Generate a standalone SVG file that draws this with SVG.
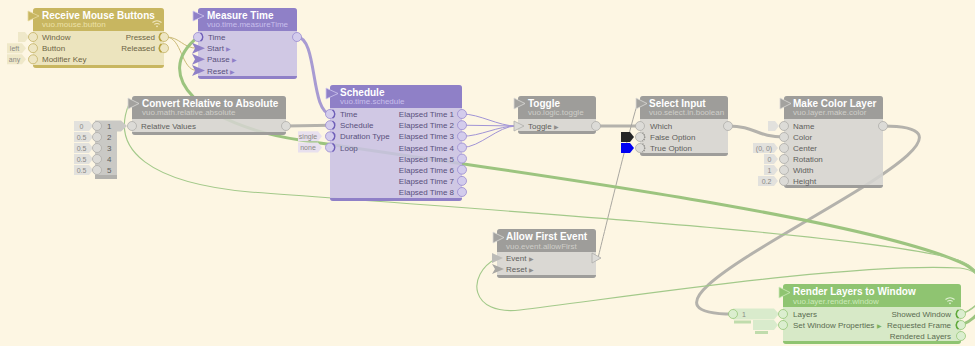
<svg xmlns="http://www.w3.org/2000/svg" width="975" height="346" viewBox="0 0 975 346">
<defs>
<style>
text{font-family:'Liberation Sans',Arial,sans-serif}
.tt{font-size:10px;font-weight:bold;fill:#fff}
.st{font-size:8px}
.lb{font-size:8px}
.r{text-anchor:end}
.kt{font-size:7px;text-anchor:middle;fill:#8a8985}
.ar{font-size:6px}
.b{fill-opacity:.88}
.hG{fill:#c8b660}.bG{fill:#e9e1b8}.lG{fill:#6c6445}.sG{fill:#ece1a8}
.hP{fill:#8f80c7}.bP{fill:#c9c1e4}.lP{fill:#58507c}.sP{fill:#c8bfec}
.hY{fill:#9e9d9a}.bY{fill:#d5d4d0}.lY{fill:#5e5e5c}.sY{fill:#cfcec9}
.hN{fill:#8fc471}.bN{fill:#d1e7c3}.lN{fill:#5a6c50}.sN{fill:#cdeaba}
.pG{fill:#eee6c3;stroke:#c4b266;stroke-width:.8}
.pP{fill:#d3ccec;stroke:#9a8cd0;stroke-width:.8}
.pY{fill:#dcdbd7;stroke:#aeada9;stroke-width:.8}
.pN{fill:#dbeecf;stroke:#95c777;stroke-width:.8}
.kG{fill:#efe8c9}.kP{fill:#e8e0ee}.kY{fill:#e2e1dd}.kN{fill:#d9ebcc}
.eG{stroke:#b8a23e;stroke-width:1.6;fill:none}
.eP{stroke:#6f5fb8;stroke-width:1.4;fill:none}
.eN{stroke:#5ea83a;stroke-width:1.6;fill:none}
.rG{fill:#c8b660;stroke:#e6d9a0;stroke-width:.8}
.rP{fill:#8f80c7;stroke:#cfc6ef;stroke-width:.8}
.rY{fill:#a3a29f;stroke:#dad9d5;stroke-width:.8}
.rN{fill:#8fc471;stroke:#cdeaba;stroke-width:.8}
.cG{stroke:#9cc47f;stroke-width:3;fill:none}
.cg{stroke:#a3c98a;stroke-width:1.1;fill:none}
.cY{stroke:#b4b2ac;stroke-width:3;fill:none}
.cy{stroke:#a9a7a1;stroke-width:1;fill:none}
.cP{stroke:#a89bd2;stroke-width:3;fill:none}
.cp{stroke:#a194d6;stroke-width:1;fill:none}
.cT{stroke:#cbbb78;stroke-width:1;fill:none}
.wf{fill:none;stroke-width:1.1}
</style>
</defs>
<rect width="975" height="346" fill="#fdf6e3"/>

<g id="connectors">
<path class="cT" d="M166,37 C180,37 183,48.2 197,48.2"/>
<path class="cT" d="M166,37 C182,37 181,70.5 197,70.5"/>
<path class="cP" d="M297,37 C318,37 310,114 331,114"/>
<path class="cY" d="M286,126 L331,125.2"/>
<path class="cp" d="M462,114 C480,114 498,126 516,126"/>
<path class="cp" d="M462,125.2 C480,125.2 498,126 516,126"/>
<path class="cp" d="M462,136.3 C480,136.3 498,126 516,126"/>
<path class="cp" d="M462,147.5 C480,147.5 498,126 516,126"/>
<path class="cY" d="M596,126 L640,126"/>
<path class="cY" d="M728,126 C756,126 756,137 784,137"/>
<path class="cy" d="M598,258 C600,250 634,110 638,103"/>
<path class="cY" d="M883,126 C1053,126 563,314 733,314"/>
<path class="cG" d="M961,325 C990,315 995,277 960,262 C850,215 500,170 300,140 C200,125 150,75 198,37"/>
<path class="cg" d="M961,314 C990,305 992,272 958,260 C880,236 520,212 250,192 C150,183 110,150 129,104"/>
<path class="cg" d="M961,314 C992,302 992,272 960,268 C850,262 620,298 520,310 C470,316 465,275 497,258"/>
</g>

<g id="receive-mouse-buttons">
<rect class="bG b" x="33" y="8" width="131" height="60" rx="3"/>
<path class="hG" d="M33,31V11a3,3 0 0 1 3-3H161a3,3 0 0 1 3,3V31Z"/>
<path class="hG" d="M33,65H164a3,3 0 0 1-3,3H36a3,3 0 0 1-3-3Z"/>
<polygon class="rG" points="28,11 39,16 28,21"/>
<text class="tt" x="42" y="18.5">Receive Mouse Buttons</text>
<text class="st sG" x="42" y="27">vuo.mouse.button</text>
<path class="wf" stroke="#f1e8c2" d="M152.5,22.5 Q157,19 161.5,22.5 M154.3,24.4 Q157,22.6 159.7,24.4"/>
<circle cx="157" cy="26.3" r=".9" fill="#f1e8c2"/>
<polygon class="kG" points="18,32 25,32 29,37 25,42 18,42"/>
<polygon class="kG" points="7,43.2 22,43.2 26,48.2 22,53.2 7,53.2"/>
<text class="kt" x="14.5" y="50.7">left</text>
<polygon class="kG" points="7,54.3 22,54.3 26,59.3 22,64.3 7,64.3"/>
<text class="kt" x="14.5" y="61.8">any</text>
<circle class="pG" cx="33" cy="37" r="4.5"/>
<circle class="pG" cx="33" cy="48.2" r="4.5"/>
<circle class="pG" cx="33" cy="59.3" r="4.5"/>
<text class="lb lG" x="42" y="40">Window</text>
<text class="lb lG" x="42" y="51.2">Button</text>
<text class="lb lG" x="42" y="62.3">Modifier Key</text>
<circle class="pG" cx="164" cy="37" r="4.5"/>
<circle class="pG" cx="164" cy="48.2" r="4.5"/>
<path class="eG" d="M161.5,32.8 A5,5 0 0 0 161.5,41.2 M161.5,44 A5,5 0 0 0 161.5,52.4"/>
<text class="lb lG r" x="155" y="40">Pressed</text>
<text class="lb lG r" x="155" y="51.2">Released</text>
</g>

<g id="measure-time">
<rect class="bP b" x="198" y="8" width="99" height="71" rx="3"/>
<path class="hP" d="M198,31V11a3,3 0 0 1 3-3H294a3,3 0 0 1 3,3V31Z"/>
<path class="hP" d="M198,76H297a3,3 0 0 1-3,3H201a3,3 0 0 1-3-3Z"/>
<polygon class="rP" points="193,11 204,16 193,21"/>
<text class="tt" x="207" y="18.5">Measure Time</text>
<text class="st sP" x="207" y="27">vuo.time.measureTime</text>
<circle class="pP" cx="198" cy="37" r="4.5"/>
<path class="eP" d="M200.5,32.8 A5,5 0 0 1 200.5,41.2"/>
<polygon class="hP" points="192,42.7 205,48.2 192,53.7 195,48.2"/>
<polygon class="hP" points="192,53.8 205,59.3 192,64.8 195,59.3"/>
<polygon class="hP" points="192,65 205,70.5 192,76 195,70.5"/>
<text class="lb lP" x="208" y="40">Time</text>
<text class="lb lP" x="207" y="51.2">Start <tspan class="ar" fill="#8f80c7">▶</tspan></text>
<text class="lb lP" x="207" y="62.3">Pause <tspan class="ar" fill="#8f80c7">▶</tspan></text>
<text class="lb lP" x="207" y="73.5">Reset <tspan class="ar" fill="#8f80c7">▶</tspan></text>
<circle class="pP" cx="297" cy="37" r="4.5"/>
</g>

<g id="convert-relative-to-absolute">
<rect class="bY b" x="132" y="96" width="154" height="39" rx="3"/>
<path class="hY" d="M132,119V99a3,3 0 0 1 3-3H283a3,3 0 0 1 3,3V119Z"/>
<path class="hY" d="M132,132H286a3,3 0 0 1-3,3H135a3,3 0 0 1-3-3Z"/>
<polygon class="rY" points="128,98 139,103.5 128,109"/>
<text class="tt" x="142" y="106.5">Convert Relative to Absolute</text>
<text class="st sY" x="142" y="115">vuo.math.relative.absolute</text>
<path fill="#cac9c5" d="M95,120.5H121L127,126L121,131.5H117V178H95Z"/>
<rect x="95" y="175" width="22" height="4" fill="#b2b1ad"/>
<polygon class="kY" points="74,121 89,121 93,126 89,131 74,131"/>
<text class="kt" x="81.5" y="128.5">0</text>
<polygon class="kY" points="74,132 89,132 93,137 89,142 74,142"/>
<text class="kt" x="81.5" y="139.5">0.5</text>
<polygon class="kY" points="74,143 89,143 93,148 89,153 74,153"/>
<text class="kt" x="81.5" y="150.5">0.5</text>
<polygon class="kY" points="74,154 89,154 93,159 89,164 74,164"/>
<text class="kt" x="81.5" y="161.5">0.5</text>
<polygon class="kY" points="74,165 89,165 93,170 89,175 74,175"/>
<text class="kt" x="81.5" y="172.5">0.5</text>
<circle class="pY" cx="97" cy="126" r="4.5"/>
<circle class="pY" cx="97" cy="137" r="4.5"/>
<circle class="pY" cx="97" cy="148" r="4.5"/>
<circle class="pY" cx="97" cy="159" r="4.5"/>
<circle class="pY" cx="97" cy="170" r="4.5"/>
<text class="lb lY" x="107" y="129">1</text>
<text class="lb lY" x="107" y="140">2</text>
<text class="lb lY" x="107" y="151">3</text>
<text class="lb lY" x="107" y="162">4</text>
<text class="lb lY" x="107" y="173">5</text>
<circle class="pY" cx="132" cy="126" r="4.5"/>
<text class="lb lY" x="141" y="129">Relative Values</text>
<circle class="pY" cx="286" cy="126" r="4.5"/>
</g>

<g id="schedule">
<rect class="bP b" x="330" y="85" width="132" height="116" rx="3"/>
<path class="hP" d="M330,108V88a3,3 0 0 1 3-3H459a3,3 0 0 1 3,3V108Z"/>
<path class="hP" d="M330,198H462a3,3 0 0 1-3,3H333a3,3 0 0 1-3-3Z"/>
<polygon class="rP" points="326,88 338,93.5 326,99"/>
<text class="tt" x="340" y="95.5">Schedule</text>
<text class="st sP" x="340" y="104">vuo.time.schedule</text>
<polygon class="kP" points="298,131.3 318,131.3 322,136.3 318,141.3 298,141.3"/>
<text class="kt" x="308" y="138.8" fill="#6f6a86">single</text>
<polygon class="kP" points="298,142.5 318,142.5 322,147.5 318,152.5 298,152.5"/>
<text class="kt" x="308" y="150">none</text>
<circle class="pP" cx="330" cy="114" r="4.5"/>
<circle class="pP" cx="330" cy="125.2" r="4.5"/>
<circle class="pP" cx="330" cy="136.3" r="4.5"/>
<circle class="pP" cx="330" cy="147.5" r="4.5"/>
<path class="eP" d="M332.5,109.8 A5,5 0 0 1 332.5,118.2 M332.5,121 A5,5 0 0 1 332.5,129.4 M332.5,132.1 A5,5 0 0 1 332.5,140.5 M332.5,143.3 A5,5 0 0 1 332.5,151.7"/>
<text class="lb lP" x="340" y="117">Time</text>
<text class="lb lP" x="340" y="128.2">Schedule</text>
<text class="lb lP" x="340" y="139.3">Duration Type</text>
<text class="lb lP" x="340" y="150.5">Loop</text>
<circle class="pP" cx="462" cy="114" r="4.5"/>
<circle class="pP" cx="462" cy="125.2" r="4.5"/>
<circle class="pP" cx="462" cy="136.3" r="4.5"/>
<circle class="pP" cx="462" cy="147.5" r="4.5"/>
<circle class="pP" cx="462" cy="158.6" r="4.5"/>
<circle class="pP" cx="462" cy="169.7" r="4.5"/>
<circle class="pP" cx="462" cy="180.9" r="4.5"/>
<circle class="pP" cx="462" cy="192" r="4.5"/>
<text class="lb lP r" x="454" y="117">Elapsed Time 1</text>
<text class="lb lP r" x="454" y="128.2">Elapsed Time 2</text>
<text class="lb lP r" x="454" y="139.3">Elapsed Time 3</text>
<text class="lb lP r" x="454" y="150.5">Elapsed Time 4</text>
<text class="lb lP r" x="454" y="161.6">Elapsed Time 5</text>
<text class="lb lP r" x="454" y="172.7">Elapsed Time 6</text>
<text class="lb lP r" x="454" y="183.9">Elapsed Time 7</text>
<text class="lb lP r" x="454" y="195">Elapsed Time 8</text>
</g>

<g id="toggle">
<rect class="bY b" x="518" y="96" width="78" height="38" rx="3"/>
<path class="hY" d="M518,119V99a3,3 0 0 1 3-3H593a3,3 0 0 1 3,3V119Z"/>
<path class="hY" d="M518,131H596a3,3 0 0 1-3,3H521a3,3 0 0 1-3-3Z"/>
<polygon class="rY" points="514,98 525,103.5 514,109"/>
<text class="tt" x="528" y="106.5">Toggle</text>
<text class="st sY" x="528" y="115">vuo.logic.toggle</text>
<polygon class="pY" points="514,121 524,126 514,131"/>
<text class="lb lY" x="528" y="129">Toggle <tspan class="ar" fill="#8e8d8a">▶</tspan></text>
<circle class="pY" cx="596" cy="126" r="4.5"/>
</g>

<g id="select-input">
<rect class="bY b" x="640" y="96" width="88" height="60" rx="3"/>
<path class="hY" d="M640,119V99a3,3 0 0 1 3-3H725a3,3 0 0 1 3,3V119Z"/>
<path class="hY" d="M640,153H728a3,3 0 0 1-3,3H643a3,3 0 0 1-3-3Z"/>
<polygon class="rY" points="636,98 647,103.5 636,109"/>
<text class="tt" x="649" y="106.5">Select Input</text>
<text class="st sY" x="649" y="115">vuo.select.in.boolean</text>
<polygon fill="#262626" points="621,132 630,132 634,137 630,142 621,142"/>
<polygon fill="#0000f2" points="621,143 630,143 634,148 630,153 621,153"/>
<circle class="pY" cx="640" cy="126" r="4.5"/>
<circle class="pY" cx="640" cy="137" r="4.5"/>
<circle class="pY" cx="640" cy="148" r="4.5"/>
<path d="M642.5,132.8 A5,5 0 0 1 642.5,141.2 M642.5,143.8 A5,5 0 0 1 642.5,152.2" fill="none" stroke="#8a8985" stroke-width="1.2" stroke-dasharray="1.2 1"/>
<text class="lb lY" x="650" y="129">Which</text>
<text class="lb lY" x="650" y="140">False Option</text>
<text class="lb lY" x="650" y="151">True Option</text>
<circle class="pY" cx="728" cy="126" r="4.5"/>
</g>

<g id="make-color-layer">
<rect class="bY b" x="784" y="96" width="99" height="92" rx="3"/>
<path class="hY" d="M784,119V99a3,3 0 0 1 3-3H880a3,3 0 0 1 3,3V119Z"/>
<path class="hY" d="M784,185H883a3,3 0 0 1-3,3H787a3,3 0 0 1-3-3Z"/>
<polygon class="rY" points="780,98 791,103.5 780,109"/>
<text class="tt" x="793" y="106.5">Make Color Layer</text>
<text class="st sY" x="793" y="115">vuo.layer.make.color</text>
<polygon class="kY" points="768,121 775,121 779,126 775,131 768,131"/>
<polygon class="kY" points="753,143 774,143 778,148 774,153 753,153"/>
<text class="kt" x="764" y="150.5">(0, 0)</text>
<polygon class="kY" points="764,154 774,154 778,159 774,164 764,164"/>
<text class="kt" x="769.5" y="161.5">0</text>
<polygon class="kY" points="764,165 774,165 778,170 774,175 764,175"/>
<text class="kt" x="769.5" y="172.5">1</text>
<polygon class="kY" points="758,176 774,176 778,181 774,186 758,186"/>
<text class="kt" x="766.5" y="183.5">0.2</text>
<circle class="pY" cx="784" cy="126" r="4.5"/>
<circle class="pY" cx="784" cy="137" r="4.5"/>
<circle class="pY" cx="784" cy="148" r="4.5"/>
<circle class="pY" cx="784" cy="159" r="4.5"/>
<circle class="pY" cx="784" cy="170" r="4.5"/>
<circle class="pY" cx="784" cy="181" r="4.5"/>
<text class="lb lY" x="793" y="129">Name</text>
<text class="lb lY" x="793" y="140">Color</text>
<text class="lb lY" x="793" y="151">Center</text>
<text class="lb lY" x="793" y="162">Rotation</text>
<text class="lb lY" x="793" y="173">Width</text>
<text class="lb lY" x="793" y="184">Height</text>
<circle class="pY" cx="883" cy="126" r="4.5"/>
</g>

<g id="allow-first-event">
<rect class="bY b" x="497" y="229" width="99" height="49" rx="3"/>
<path class="hY" d="M497,252V232a3,3 0 0 1 3-3H593a3,3 0 0 1 3,3V252Z"/>
<path class="hY" d="M497,275H596a3,3 0 0 1-3,3H500a3,3 0 0 1-3-3Z"/>
<polygon class="rY" points="493,232 504,237.5 493,243"/>
<text class="tt" x="506" y="240">Allow First Event</text>
<text class="st sY" x="506" y="248.5">vuo.event.allowFirst</text>
<polygon fill="#bdbcb8" points="492,253 503,258 492,263"/>
<polygon fill="#a8a7a3" points="492,264 504,269 492,274 495,269"/>
<text class="lb lY" x="506" y="261">Event <tspan class="ar" fill="#8e8d8a">▶</tspan></text>
<text class="lb lY" x="506" y="272">Reset <tspan class="ar" fill="#8e8d8a">▶</tspan></text>
<polygon class="pY" points="592,253 601,258 592,263"/>
</g>

<g id="render-layers-to-window">
<rect class="bN b" x="783" y="284" width="178" height="60" rx="3"/>
<path class="hN" d="M783,307V287a3,3 0 0 1 3-3H958a3,3 0 0 1 3,3V307Z"/>
<path class="hN" d="M783,341H961a3,3 0 0 1-3,3H786a3,3 0 0 1-3-3Z"/>
<polygon class="rN" points="779,287 790,292.5 779,298"/>
<text class="tt" x="793" y="295">Render Layers to Window</text>
<text class="st sN" x="793" y="303.5">vuo.layer.render.window</text>
<path class="wf" stroke="#e2f2d6" d="M945.5,299.5 Q950,296 954.5,299.5 M947.3,301.4 Q950,299.6 952.7,301.4"/>
<circle cx="950" cy="303.3" r=".9" fill="#e2f2d6"/>
<path class="kN" d="M733,308.5H774L779,314L774,319.5H733Z"/>
<rect x="734" y="320.5" width="17" height="3" fill="#c0dcac"/>
<circle class="pN" cx="733" cy="314" r="4.5"/>
<text class="kt" x="744" y="316.5" fill="#5a6c50">1</text>
<polygon class="kN" points="753,320 774,320 778,325 774,330 753,330"/>
<rect x="755" y="331" width="13" height="3" fill="#c0dcac"/>
<circle class="pN" cx="783" cy="314" r="4.5"/>
<circle class="pN" cx="783" cy="325" r="4.5"/>
<text class="lb lN" x="793" y="317">Layers</text>
<text class="lb lN" x="793" y="328">Set Window Properties <tspan class="ar" fill="#7fb35f">▶</tspan></text>
<circle class="pN" cx="961" cy="314" r="4.5"/>
<circle class="pN" cx="961" cy="325" r="4.5"/>
<circle class="pN" cx="961" cy="336" r="4.5"/>
<path class="eN" d="M958.5,309.8 A5,5 0 0 0 958.5,318.2 M958.5,320.8 A5,5 0 0 0 958.5,329.2"/>
<text class="lb lN r" x="951" y="317">Showed Window</text>
<text class="lb lN r" x="951" y="328">Requested Frame</text>
<text class="lb lN r" x="951" y="339">Rendered Layers</text>
</g>
</svg>
